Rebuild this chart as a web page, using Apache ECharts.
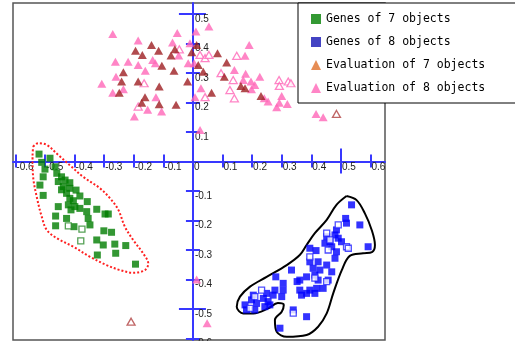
<!DOCTYPE html>
<html>
<head>
<meta charset="utf-8">
<script src="https://cdn.jsdelivr.net/npm/echarts@6/dist/echarts.min.js"></script>
<style>html,body{margin:0;padding:0;background:#fff;}#c{width:515px;height:341px;}</style>
</head>
<body>
<div id="c"></div>
<script>
const seriesNames = ['Genes of 7 objects', 'Genes of 8 objects', 'Evaluation of 7 objects', 'Evaluation of 8 objects'];
const xTickValues = [-0.6, -0.5, -0.4, -0.3, -0.2, -0.1, 0, 0.1, 0.2, 0.3, 0.4, 0.5, 0.6];
const yTickValues = [-0.6, -0.5, -0.4, -0.3, -0.2, -0.1, 0, 0.1, 0.2, 0.3, 0.4, 0.5];
const yLabelValues = [-0.6, -0.5, -0.4, -0.3, -0.2, -0.1, 0.1, 0.2, 0.3, 0.4, 0.5];
const xLongTickValues = [0.5];
const yLongTickValues = [-0.5, 0.5];

const genes7 = [
  [-0.520,0.025],[-0.483,0.011],[-0.511,-0.003],[-0.466,-0.018],[-0.500,-0.026],[-0.506,-0.052],
  [-0.460,-0.040],[-0.444,-0.052],[-0.455,-0.068],[-0.432,-0.063],[-0.416,-0.072],[-0.517,-0.080],
  [-0.438,-0.085],[-0.416,-0.091],[-0.444,-0.096],[-0.427,-0.108],[-0.395,-0.097],[-0.506,-0.115],
  [-0.416,-0.125],[-0.382,-0.117],[-0.404,-0.133],[-0.421,-0.147],[-0.357,-0.136],[-0.382,-0.159],
  [-0.455,-0.153],[-0.399,-0.153],[-0.325,-0.162],[-0.359,-0.170],[-0.297,-0.178],[-0.286,-0.178],
  [-0.412,-0.164],[-0.464,-0.185],[-0.427,-0.193],[-0.354,-0.193],[-0.348,-0.215],[-0.464,-0.218],
  [-0.402,-0.221],[-0.301,-0.235],[-0.275,-0.240],[-0.325,-0.266],[-0.303,-0.283],[-0.264,-0.280],
  [-0.227,-0.285],[-0.323,-0.317],[-0.261,-0.311],[-0.194,-0.348]
];
const genes7Open = [[-0.421,-0.218],[-0.375,-0.229],[-0.379,-0.269]];

const genes8 = [
  [0.536,-0.147],[0.516,-0.193],[0.564,-0.215],[0.592,-0.289],[0.519,-0.209],[0.485,-0.232],
  [0.480,-0.249],[0.452,-0.255],[0.491,-0.260],[0.502,-0.272],[0.469,-0.289],[0.485,-0.306],
  [0.395,-0.294],[0.416,-0.302],[0.480,-0.328],[0.395,-0.340],[0.423,-0.340],[0.452,-0.351],
  [0.406,-0.362],[0.429,-0.368],[0.469,-0.374],[0.333,-0.368],[0.384,-0.391],[0.412,-0.385],
  [0.423,-0.402],[0.457,-0.402],[0.361,-0.402],[0.352,-0.407],[0.280,-0.391],[0.305,-0.413],
  [0.361,-0.436],[0.395,-0.436],[0.418,-0.430],[0.384,-0.447],[0.412,-0.447],[0.367,-0.453],
  [0.305,-0.436],[0.277,-0.436],[0.271,-0.453],[0.300,-0.458],[0.249,-0.447],[0.238,-0.464],
  [0.204,-0.453],[0.198,-0.469],[0.215,-0.481],[0.254,-0.475],[0.243,-0.492],[0.176,-0.486],
  [0.181,-0.503],[0.209,-0.503],[0.260,-0.486],[0.339,-0.503],[0.384,-0.526],[0.294,-0.565],
  [0.440,-0.430],[0.463,-0.272],[0.446,-0.277]
];
const genes8Open = [
  [0.491,-0.215],[0.452,-0.243],[0.463,-0.266],[0.457,-0.300],[0.519,-0.289],[0.525,-0.294],
  [0.395,-0.323],[0.452,-0.407],[0.232,-0.436],[0.209,-0.458],[0.193,-0.498],[0.339,-0.514],[0.412,-0.395]
];

const eval7 = [
  [-0.140,0.395],[-0.194,0.375],[-0.116,0.375],[-0.171,0.361],[-0.074,0.359],[-0.061,0.380],
  [-0.105,0.324],[-0.064,0.307],[-0.235,0.302],[-0.241,0.271],[-0.185,0.271],[-0.018,0.271],
  [-0.114,0.254],[-0.249,0.233],[-0.162,0.218],[-0.173,0.199],[-0.114,0.194],[-0.057,0.192],
  [-0.004,0.370],[0.0125,0.395],[0.083,0.367],[0.018,0.327],[0.114,0.335],[0.035,0.304],
  [0.106,0.287],[0.162,0.256],[0.176,0.248],[0.063,0.233],[0.230,0.222]
];
const eval7Open = [[0.485,0.161],[-0.209,-0.543]];

const eval8 = [
  [-0.271,0.432],[-0.185,0.410],[-0.053,0.435],[-0.069,0.403],[-0.048,0.359],[-0.262,0.338],
  [-0.219,0.338],[-0.185,0.327],[-0.136,0.344],[-0.127,0.333],[-0.161,0.307],[-0.260,0.287],
  [-0.308,0.263],[-0.235,0.245],[-0.271,0.233],[-0.125,0.218],[-0.153,0.175],[-0.106,0.169],
  [-0.198,0.152],[-0.010,0.401],[0.010,0.440],[0.054,0.457],[0.190,0.395],[0.176,0.358],
  [-0.016,0.333],[0.004,0.333],[0.140,0.310],[0.178,0.297],[0.170,0.276],[0.196,0.271],
  [0.226,0.287],[0.209,0.259],[0.198,0.245],[0.027,0.248],[0.241,0.214],[0.254,0.203],
  [0.300,0.222],[0.292,0.199],[0.283,0.184],[0.319,0.195],[0.007,0.218],[0.416,0.161],
  [0.440,0.150],[0.024,0.107],[0.0125,-0.400],[0.048,-0.548]
];
const eval8Open = [
  [-0.046,0.380],[-0.165,0.265],[-0.185,0.186],[0.024,0.361],[0.041,0.350],[0.054,0.361],
  [0.148,0.358],[0.095,0.299],[0.136,0.276],[0.291,0.276],[0.322,0.271],[0.331,0.265],
  [0.292,0.256],[0.125,0.242],[0.140,0.214],[0.041,0.218]
];

const outline7 = [
  [-0.540,0.050],[-0.523,0.062],[-0.494,0.056],[-0.455,0.022],[-0.410,-0.018],[-0.371,-0.052],
  [-0.314,-0.091],[-0.280,-0.125],[-0.252,-0.164],[-0.230,-0.221],[-0.202,-0.266],[-0.168,-0.312],
  [-0.151,-0.346],[-0.162,-0.368],[-0.202,-0.377],[-0.247,-0.368],[-0.292,-0.351],[-0.348,-0.323],
  [-0.404,-0.289],[-0.460,-0.260],[-0.494,-0.232],[-0.511,-0.187],[-0.528,-0.119],[-0.540,-0.052],
  [-0.542,0.016],[-0.540,0.050]
];
const outline8 = [
  [0.519,-0.117],[0.553,-0.131],[0.581,-0.176],[0.604,-0.232],[0.615,-0.283],[0.605,-0.307],
  [0.575,-0.311],[0.530,-0.320],[0.503,-0.368],[0.474,-0.447],[0.452,-0.515],[0.423,-0.560],
  [0.384,-0.588],[0.317,-0.594],[0.283,-0.577],[0.277,-0.537],[0.300,-0.509],[0.307,-0.486],
  [0.287,-0.480],[0.254,-0.498],[0.204,-0.515],[0.170,-0.515],[0.148,-0.492],[0.159,-0.458],
  [0.193,-0.424],[0.249,-0.391],[0.317,-0.351],[0.361,-0.317],[0.384,-0.283],[0.412,-0.243],
  [0.452,-0.198],[0.485,-0.147],[0.519,-0.117]
];

const AXIS_BLUE = '#3838ff';
const GRID = {left: 13, top: 3, width: 372, height: 337};
const chart = echarts.init(document.getElementById('c'), null, {renderer: 'canvas'});

const xRange = {min: -0.608, max: 0.649};
const yRange = {min: -0.605, max: 0.537};
const fmt = v => String(Math.round(v * 10) / 10);

function mkX(showLine, inside, withLabels, ticks, len) {
  return {
    type: 'value', min: xRange.min, max: xRange.max, position: 'bottom', offset: 0,
    axisLine: {show: showLine, onZero: false, lineStyle: {color: AXIS_BLUE, width: 2}},
    axisTick: {show: true, inside: inside, length: len, customValues: ticks, lineStyle: {color: AXIS_BLUE, width: 2}},
    axisLabel: {show: withLabels, customValues: xTickValues, align: 'left', margin: 1, padding: [0,0,0,1],
      fontFamily: 'Liberation Sans', fontSize: 10, color: '#222', formatter: fmt},
    splitLine: {show: false}
  };
}
function mkY(showLine, inside, withLabels, ticks, len) {
  return {
    type: 'value', min: yRange.min, max: yRange.max, position: 'left', offset: 0,
    axisLine: {show: showLine, onZero: false, lineStyle: {color: AXIS_BLUE, width: 2}},
    axisTick: {show: true, inside: inside, length: len, customValues: ticks, lineStyle: {color: AXIS_BLUE, width: 2}},
    axisLabel: {show: withLabels, inside: true, customValues: yLabelValues, align: 'left', verticalAlign: 'top', margin: 2,
      fontFamily: 'Liberation Sans', fontSize: 10, color: '#222', formatter: fmt},
    splitLine: {show: false}
  };
}

function scat(name, data, symbol, color, open, size, z) {
  return {
    type: 'scatter', name: name, data: data, symbol: symbol, symbolSize: size,
    xAxisIndex: 0, yAxisIndex: 0, z: z,
    itemStyle: open ? {color: '#ffffff', borderColor: color, borderWidth: 1.3} : {color: color, borderWidth: 0},
    emphasis: {disabled: true}, animation: false
  };
}

const option = {
  animation: false,
  backgroundColor: '#ffffff',
  grid: Object.assign({show: true, borderColor: '#555', borderWidth: 1.5, backgroundColor: '#fff',
    outerBoundsMode: 'none', containLabel: false}, GRID),
  xAxis: [
    mkX(true, false, true, xTickValues, 6), mkX(false, true, false, xTickValues, 7),
    mkX(false, false, false, xLongTickValues, 12), mkX(false, true, false, xLongTickValues, 13)
  ],
  yAxis: [
    mkY(true, false, true, yTickValues, 7), mkY(false, true, false, yTickValues, 7),
    mkY(false, false, false, yLongTickValues, 14), mkY(false, true, false, yLongTickValues, 13)
  ],
  legend: {
    orient: 'vertical', left: 298, top: 3,
    padding: [10, 40, 9, 13], itemGap: 11, itemWidth: 10, itemHeight: 10,
    backgroundColor: '#fff', borderColor: '#000', borderWidth: 1, borderRadius: 0,
    textStyle: {fontFamily: 'DejaVu Sans Mono', fontSize: 11.5, color: '#000'},
    selectedMode: false, z: 20,
    data: [
      {name: seriesNames[0], icon: 'rect', itemStyle: {color: '#008000'}},
      {name: seriesNames[1], icon: 'rect', itemStyle: {color: '#1414b4'}},
      {name: seriesNames[2], icon: 'triangle', itemStyle: {color: '#e0702a'}},
      {name: seriesNames[3], icon: 'triangle', itemStyle: {color: '#ff66b8'}}
    ]
  },
  series: [
    {type: 'line', name: 'outline7', data: outline7, smooth: 0.35, symbol: 'none', xAxisIndex: 0, yAxisIndex: 0,
      lineStyle: {color: '#ff2020', width: 2, type: [2, 2]}, z: 1, silent: true},
    {type: 'line', name: 'outline8', data: outline8, smooth: 0.35, symbol: 'none', xAxisIndex: 0, yAxisIndex: 0,
      lineStyle: {color: '#000', width: 2}, z: 1, silent: true},
    scat(seriesNames[3], eval8, 'triangle', '#ff66b8', false, [9, 8], 3),
    scat(seriesNames[3], eval8Open, 'triangle', '#ff66b8', true, [8, 7], 3),
    scat(seriesNames[2], eval7, 'triangle', '#9e1e22', false, [9, 8], 4),
    scat(seriesNames[2], eval7Open, 'triangle', '#b04040', true, [8, 7], 4),
    scat(seriesNames[0], genes7, 'rect', '#007d00', false, 7, 3),
    scat(seriesNames[0], genes7Open, 'rect', '#2a8a2a', true, 6, 4),
    scat(seriesNames[1], genes8, 'rect', '#0000ff', false, 7, 3),
    scat(seriesNames[1], genes8Open, 'rect', '#2020ff', true, 6, 4)
  ]
};
chart.setOption(option);

// Place the axes on the zero lines, using the library's own scales.
const zero = chart.convertToPixel({xAxisIndex: 0, yAxisIndex: 0}, [0, 0]);
const xOffset = -((GRID.top + GRID.height) - zero[1]);
const yOffset = -(zero[0] - GRID.left);
chart.setOption({
  xAxis: [0, 1, 2, 3].map(() => ({offset: xOffset})),
  yAxis: [0, 1, 2, 3].map(() => ({offset: yOffset}))
});
</script>
</body>
</html>
